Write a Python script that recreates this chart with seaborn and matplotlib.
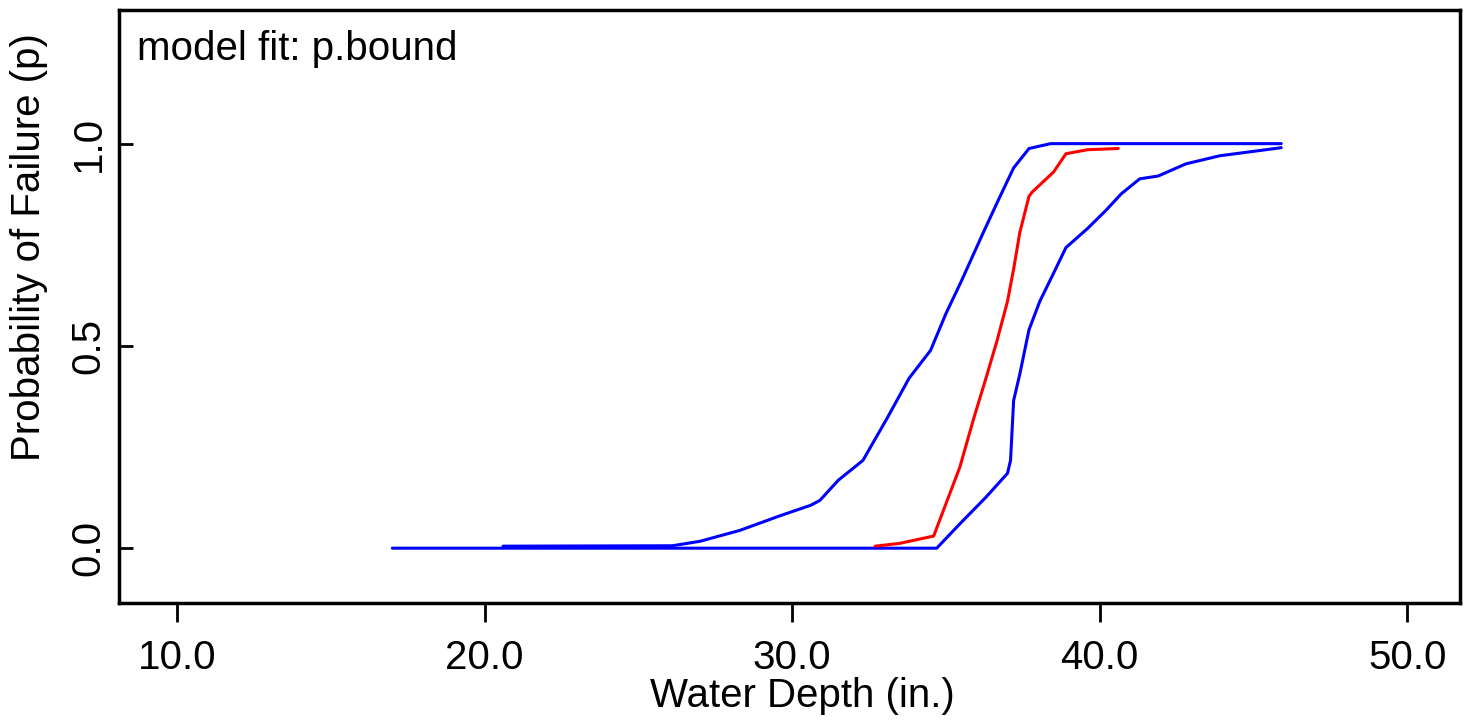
import numpy as np
import pandas as pd
import matplotlib
matplotlib.use("Agg")
import matplotlib.pyplot as plt
import seaborn as sns

sns.set_style("ticks")
plt.rcParams['font.family'] = ['Liberation Sans', 'DejaVu Sans']
plt.rcParams['text.color'] = 'black'
plt.rcParams['axes.labelcolor'] = 'black'

# lower bound of failure probability (right blue curve)
lower_x = [17.0, 34.7, 35.45, 36.3, 37.0, 37.1, 37.2, 37.4, 37.7, 38.05, 38.5, 38.9,
           39.6, 40.2, 40.7, 41.3, 41.9, 42.8, 43.9, 45.2, 45.9]
lower_p = [0.0, 0.0, 0.06, 0.126, 0.185, 0.217, 0.365, 0.43, 0.54, 0.61, 0.68, 0.743,
           0.79, 0.835, 0.876, 0.913, 0.92, 0.95, 0.97, 0.983, 0.99]

# upper bound (left blue curve)
upper_x = [20.6, 26.1, 27.0, 28.3, 29.6, 30.6, 30.9, 31.5, 32.3, 33.1, 33.8, 34.5,
           35.0, 35.5, 36.2, 36.7, 37.2, 37.7, 38.4, 45.9]
upper_p = [0.005, 0.006, 0.017, 0.044, 0.08, 0.106, 0.118, 0.168, 0.217, 0.323, 0.42,
           0.489, 0.58, 0.66, 0.778, 0.86, 0.94, 0.988, 1.0, 1.0]

# fitted model (red curve)
fit_x = [32.7, 33.5, 34.6, 35.0, 35.45, 35.9, 36.3, 36.65, 37.0, 37.2, 37.4, 37.7,
         37.8, 38.5, 38.9, 39.6, 40.6]
fit_p = [0.005, 0.012, 0.03, 0.11, 0.2, 0.32, 0.42, 0.51, 0.61, 0.69, 0.78, 0.87,
         0.88, 0.93, 0.975, 0.985, 0.988]

fs = 29

fig = plt.figure(figsize=(14.64, 7.25), dpi=100)
ax = fig.add_axes([0.081, 0.168, 0.916, 0.818])

sns.lineplot(x=lower_x, y=lower_p, ax=ax, color="#0000ff", lw=2.2, sort=False, estimator=None)
sns.lineplot(x=upper_x, y=upper_p, ax=ax, color="#0000ff", lw=2.2, sort=False, estimator=None)
sns.lineplot(x=fit_x, y=fit_p, ax=ax, color="#ff0000", lw=2.2, sort=False, estimator=None)

ax.set_xlim(8.1, 51.7)
ax.set_ylim(-0.136, 1.33)
ax.set_xticks([10, 20, 30, 40, 50])
ax.set_xticklabels(["10.0", "20.0", "30.0", "40.0", "50.0"])
ax.set_yticks([0.0, 0.5, 1.0])
ax.set_yticklabels(["0.0", "0.5", "1.0"], rotation=90, va="center")
ax.tick_params(axis="x", direction="out", length=14, width=2, labelsize=fs, pad=12,
               colors="black")
ax.tick_params(axis="y", direction="in", length=10, width=2, labelsize=fs, pad=8,
               colors="black")
for s in ax.spines.values():
    s.set_visible(True)
    s.set_linewidth(2.5)
    s.set_color("black")

ax.set_xlabel("Water Depth (in.)", fontsize=fs)
ax.set_ylabel("Probability of Failure (p)", fontsize=fs)
ax.xaxis.set_label_coords(0.51, -0.125)
ax.yaxis.set_label_coords(-0.053, 0.6)
ax.text(0.014, 0.966, "model fit: p.bound", transform=ax.transAxes, fontsize=fs,
        va="top", ha="left")

fig.savefig("out.png", dpi=100)
